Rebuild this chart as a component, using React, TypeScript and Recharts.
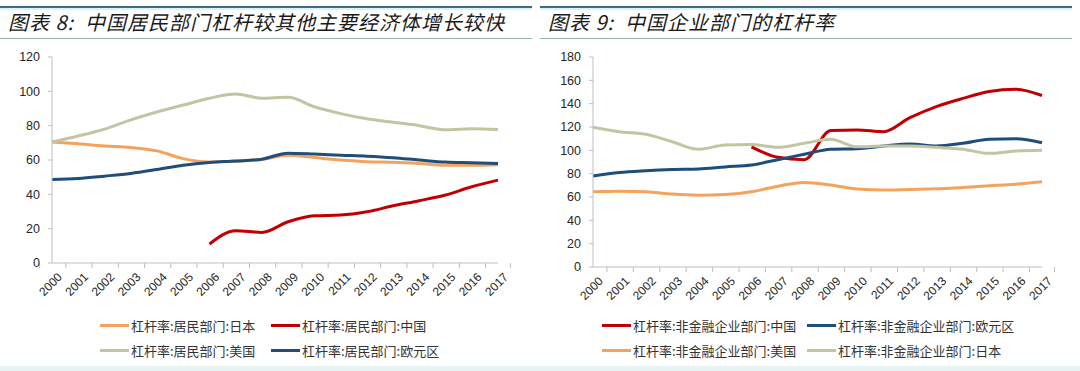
import { LineChart, Line, XAxis, YAxis } from "recharts";

const years = [
  "2000", "2001", "2002", "2003", "2004", "2005", "2006", "2007", "2008",
  "2009", "2010", "2011", "2012", "2013", "2014", "2015", "2016", "2017",
];

// 图表8 居民部门杠杆率
const hhJapan = [70.5, 69.4, 68.2, 67.3, 65.3, 60.8, 58.9, 59.3, 60.3, 62.8, 61.4, 60.0, 59.0, 58.7, 58.0, 57.0, 57.0, 57.3];
const hhChina = [null, null, null, null, null, null, 11, 18.8, 17.8, 24, 27.5, 27.9, 29.8, 33.3, 36.3, 39.6, 44.4, 48.3];
const hhUS = [70.5, 74, 78, 83.4, 88, 92, 96, 98.5, 96, 96.5, 91, 87, 84, 82, 80, 77.6, 78.2, 77.8];
const hhEuro = [48.7, 49.2, 50.6, 52.2, 54.5, 57, 58.6, 59.4, 60.5, 64, 63.5, 62.8, 62.2, 61.3, 60, 58.8, 58.4, 57.9];

// 图表9 非金融企业部门杠杆率
const corpChina = [null, null, null, null, null, null, 103, 94, 92, 117, 117.5, 116, 128, 137.5, 144.5, 150.4, 152.4, 147];
const corpEuro = [78, 81, 82.5, 83.5, 84, 85.8, 87.4, 92, 96.6, 101, 101.4, 103.7, 105.4, 103.7, 106, 109.5, 110, 106.5];
const corpUS = [64.5, 65, 64.5, 62.5, 61.6, 62.2, 64.5, 69.3, 72.5, 70.2, 66.8, 66, 66.5, 67, 68.2, 69.6, 71, 73];
const corpJapan = [119.8, 116, 113.8, 107.4, 100.9, 104.6, 105, 102.6, 106, 109.5, 103, 103.7, 103.7, 102.6, 101, 97.4, 99.4, 100];

const leftTicks = [0, 20, 40, 60, 80, 100, 120];
const rightTicks = [0, 20, 40, 60, 80, 100, 120, 140, 160, 180];

const ORANGE = "#F5A35C";
const RED = "#C00000";
const BEIGE = "#C5C4A2";
const NAVY = "#1F4E79";
const AXIS = "#BFBFBF";
const NUM_FONT = "'Liberation Sans', Arial, sans-serif";
const CJK_FONT = "'Noto Sans CJK SC', sans-serif";

const TICK_SIZE = 5;
const TICK_MARGIN = 2;

const leftSeries = [
  { key: "jp", name: "杠杆率:居民部门:日本", color: ORANGE, values: hhJapan },
  { key: "cn", name: "杠杆率:居民部门:中国", color: RED, values: hhChina },
  { key: "us", name: "杠杆率:居民部门:美国", color: BEIGE, values: hhUS },
  { key: "eu", name: "杠杆率:居民部门:欧元区", color: NAVY, values: hhEuro },
];

const rightSeries = [
  { key: "cn", name: "杠杆率:非金融企业部门:中国", color: RED, values: corpChina },
  { key: "eu", name: "杠杆率:非金融企业部门:欧元区", color: NAVY, values: corpEuro },
  { key: "us", name: "杠杆率:非金融企业部门:美国", color: ORANGE, values: corpUS },
  { key: "jp", name: "杠杆率:非金融企业部门:日本", color: BEIGE, values: corpJapan },
];

type Series = { key: string; name: string; color: string; values: (number | null)[] };

function buildRows(series: Series[]) {
  return years.map((y, i) => {
    const row: Record<string, any> = { year: y };
    series.forEach((s) => (row[s.key] = s.values[i]));
    return row;
  });
}

function YearTick(props: any) {
  const { x, y, payload, index, visibleTicksCount, band } = props;
  const axisY = y - TICK_SIZE - TICK_MARGIN;
  const half = payload.offset || band / 2;
  const tx = x + 8;
  const ty = axisY + 12;
  return (
    <g>
      <line x1={x - half} y1={axisY} x2={x - half} y2={axisY + 5} stroke={AXIS} />
      {index === visibleTicksCount - 1 && (
        <line x1={x + half} y1={axisY} x2={x + half} y2={axisY + 5} stroke={AXIS} />
      )}
      <text
        x={tx}
        y={ty}
        transform={`rotate(-45 ${tx} ${ty})`}
        textAnchor="end"
        dominantBaseline="central"
        fontSize={12}
        fontFamily={NUM_FONT}
        fill="#262626"
      >
        {payload.value}
      </text>
    </g>
  );
}

type PanelProps = {
  left: number;
  title: string;
  series: Series[];
  ticks: number[];
  yWidth: number;
  marginRight: number;
  xHeight: number;
  legendCols: number[];
};

function Panel({ left, title, series, ticks, yWidth, marginRight, xHeight, legendCols }: PanelProps) {
  const rows = buildRows(series);
  const plotW = 540 - yWidth - marginRight;
  return (
    <div style={{ position: "absolute", left, top: 0, width: 540, height: 371 }}>
      <div style={{ position: "absolute", left: 0, top: 6, width: 532, height: 2, background: "#3d6a84" }} />
      <div style={{ position: "absolute", left: 0, top: 8, width: 532, height: 2, background: "#dff0f6" }} />
      <div
        style={{
          position: "absolute",
          left: 8,
          top: 8,
          fontFamily: CJK_FONT,
          fontStyle: "italic",
          fontSize: 20,
          letterSpacing: 1,
          lineHeight: "28px",
          color: "#1a1a1a",
          whiteSpace: "pre",
        }}
      >
        {title}
      </div>
      <div style={{ position: "absolute", left: 0, top: 38, width: 532, height: 1, background: "#8db4a8" }} />
      <div style={{ position: "absolute", left: 0, top: 40 }}>
        <LineChart
          width={540}
          height={270}
          data={rows}
          margin={{ top: 17, right: marginRight, bottom: 0, left: 0 }}
        >
          <XAxis
            dataKey="year"
            height={xHeight}
            interval={0}
            stroke={AXIS}
            tickLine={false}
            tickSize={TICK_SIZE}
            tickMargin={TICK_MARGIN}
            tick={<YearTick band={plotW / years.length} />}
          />
          <YAxis
            width={yWidth}
            domain={[0, ticks[ticks.length - 1]]}
            ticks={ticks}
            interval={0}
            stroke={AXIS}
            tickSize={4}
            tickMargin={8}
            tick={{ fontSize: 12.5, fontFamily: NUM_FONT, fill: "#262626" }}
          />
          {series.map((s) => (
            <Line
              key={s.key}
              type="monotone"
              dataKey={s.key}
              name={s.name}
              stroke={s.color}
              strokeWidth={3}
              dot={false}
              activeDot={false}
              isAnimationActive={false}
            />
          ))}
        </LineChart>
      </div>
      {series.map((s, i) => (
        <div
          key={s.key}
          style={{
            position: "absolute",
            left: legendCols[i % 2],
            top: 316 + Math.floor(i / 2) * 25,
            height: 18,
            display: "flex",
            alignItems: "center",
            fontFamily: CJK_FONT,
            fontSize: 13,
            color: "#333",
            whiteSpace: "nowrap",
          }}
        >
          <span style={{ display: "inline-block", width: 29, height: 3, background: s.color, marginRight: 2 }} />
          {s.name}
        </div>
      ))}
    </div>
  );
}

export default function App() {
  return (
    <div
      style={{
        position: "absolute",
        left: 0,
        top: 0,
        width: 1080,
        height: 371,
        background: "#fff",
        overflow: "hidden",
      }}
    >
      <Panel
        left={0}
        title="图表 8:  中国居民部门杠杆较其他主要经济体增长较快"
        series={leftSeries}
        ticks={leftTicks}
        yWidth={52}
        marginRight={42}
        xHeight={47}
        legendCols={[100, 271]}
      />
      <Panel
        left={540}
        title="图表 9:  中国企业部门的杠杆率"
        series={rightSeries}
        ticks={rightTicks}
        yWidth={53}
        marginRight={38}
        xHeight={43}
        legendCols={[62, 267]}
      />
      <div style={{ position: "absolute", left: 0, top: 366, width: 1080, height: 5, background: "#e8f4f4" }} />
    </div>
  );
}
